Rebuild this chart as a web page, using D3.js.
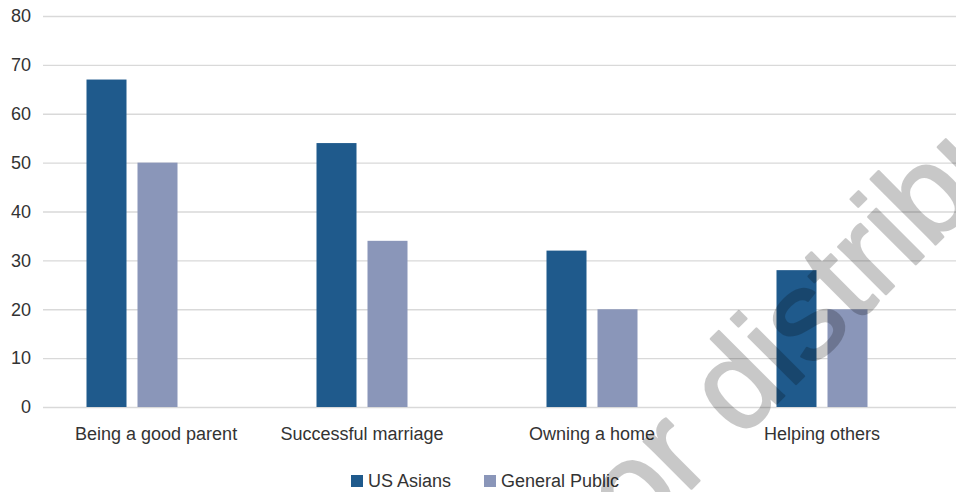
<!DOCTYPE html>
<html>
<head>
<meta charset="utf-8">
<script src="https://cdn.jsdelivr.net/npm/d3@7"></script>
<style>
  html, body { margin: 0; padding: 0; background: #fff; }
  svg { display: block; font-family: "Liberation Sans", Arial, sans-serif; }
</style>
</head>
<body>
<svg id="chart" width="956" height="492"></svg>
<script>
const categories = ["Being a good parent", "Successful marriage", "Owning a home", "Helping others"];
const seriesNames = ["US Asians", "General Public"];
const usAsians = [67, 54, 32, 28];
const generalPublic = [50, 34, 20, 20];
const yTicks = [0, 10, 20, 30, 40, 50, 60, 70, 80];
const colors = ["#1f5a8c", "#8a96b9"];
const watermarkText = "Do not copy, post, or distribute";

const seriesValues = [usAsians, generalPublic];
const W = 956, H = 492;
const svg = d3.select("#chart");

const y = d3.scaleLinear().domain([0, 80]).range([407, 16]);
const x = d3.scaleBand().domain(categories).range([17, 937]).padding(0);
const xs = d3.scaleBand().domain(seriesNames).range([-45.5, 45.5]).paddingInner(11 / 51).paddingOuter(0);

// gridlines
const grid = d3.axisLeft(y).tickValues(yTicks).tickSize(-(W - 43)).tickFormat("");
svg.append("g").attr("transform", "translate(43,0)").call(grid)
  .call(g => g.select(".domain").remove())
  .call(g => g.selectAll("line").attr("stroke", "#d9d9d9").attr("stroke-width", 1.3));

// y tick labels
const yAxis = d3.axisLeft(y).tickValues(yTicks).tickSize(0).tickPadding(0);
svg.append("g").attr("transform", "translate(31,0)").call(yAxis)
  .call(g => g.select(".domain").remove())
  .call(g => g.selectAll("text").attr("font-size", 18).attr("fill", "#333")
    .attr("font-family", "Liberation Sans, Arial, sans-serif"));

// bars
const data = [];
categories.forEach((c, i) => seriesNames.forEach((s, j) => data.push({ c, s, v: seriesValues[j][i], j })));
svg.append("g").selectAll("rect").data(data).join("rect")
  .attr("x", d => x(d.c) + x.bandwidth() / 2 + xs(d.s))
  .attr("width", xs.bandwidth())
  .attr("y", d => y(d.v))
  .attr("height", d => y(0) - y(d.v))
  .attr("fill", d => colors[d.j]);

// category labels
const catG = svg.append("g");
catG.selectAll("text").data(categories).join("text")
  .attr("x", d => x(d) + x.bandwidth() / 2)
  .attr("y", 440)
  .attr("text-anchor", "middle")
  .attr("font-size", 18)
  .attr("fill", "#333")
  .text(d => d)
  .each(function () {
    const w = this.getComputedTextLength();
    const cx = +this.getAttribute("x");
    if (cx - w / 2 < 75) this.setAttribute("x", 75 + w / 2);
  });

// legend
const legendX = [351, 484];
const leg = svg.append("g");
seriesNames.forEach((s, j) => {
  leg.append("rect").attr("x", legendX[j]).attr("y", 475).attr("width", 12).attr("height", 12).attr("fill", colors[j]);
  leg.append("text").attr("x", legendX[j] + 17).attr("y", 487).attr("font-size", 18).attr("fill", "#333").text(s);
});

// watermark
const wmSize = 127;
const probe = svg.append("text").attr("font-size", wmSize).attr("visibility", "hidden").text("Do not copy, post, or d");
const prefix = probe.node().getComputedTextLength();
probe.remove();
svg.append("g").attr("opacity", 0.21)
  .append("text")
  .attr("transform", "translate(790,390) rotate(-45)")
  .attr("x", -prefix)
  .attr("y", 0)
  .attr("font-size", wmSize)
  .attr("fill", "#000")
  .attr("stroke", "#000")
  .attr("stroke-width", 2.5)
  .attr("stroke-linejoin", "round")
  .text(watermarkText);
</script>
</body>
</html>
